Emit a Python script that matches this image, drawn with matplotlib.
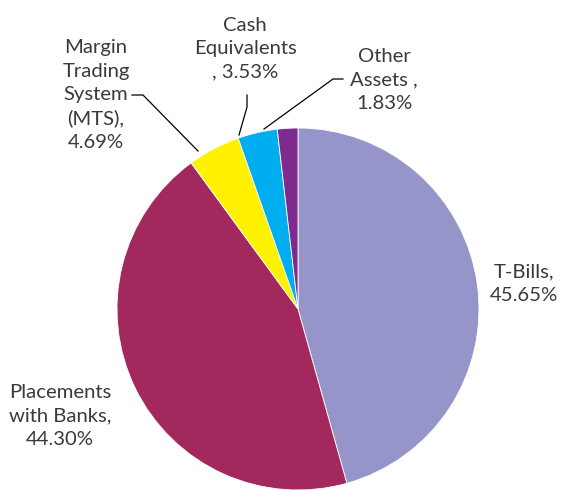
import matplotlib.pyplot as plt

labels = ["T-Bills,\n45.65%", "Placements\nwith Banks,\n44.30%", "Margin\nTrading\nSystem\n(MTS),\n4.69%",
          "Cash\nEquivalents\n, 3.53%", "Other\nAssets ,\n1.83%"]
values = [45.65, 44.30, 4.69, 3.53, 1.83]
colors = ["#9595C9", "#A3285E", "#FFF200", "#00AEEF", "#7E2B8F"]

W, H = 567, 490
fig = plt.figure(figsize=(W / 100, H / 100), dpi=100)
ax = fig.add_axes([0, 0, 1, 1])

ax.pie(values, colors=colors, startangle=90, counterclock=False,
       center=(298, H - 309), radius=181, frame=True,
       wedgeprops=dict(linewidth=0.6, edgecolor="white"))
ax.set_xlim(0, W)
ax.set_ylim(0, H)
ax.set_aspect("equal")
ax.axis("off")

txt = dict(fontsize=14.6, color="#3a3a3a", ha="center", va="center",
           family="Lato", linespacing=1.45)

# label positions in pixel coords (x, y from top)
pos = [(524, 284), (60, 416), (96, 95), (245, 49), (384, 80)]
for lab, (x, y) in zip(labels, pos):
    ax.text(x, H - y, lab, **txt)

# leader lines
leaders = [
    [(132, 95), (143, 95), (198, 151)],
    [(247, 95), (247, 107), (239, 135)],
    [(343, 79), (333, 79), (264, 129)],
]
for pts in leaders:
    xs = [p[0] for p in pts]
    ys = [H - p[1] for p in pts]
    ax.plot(xs, ys, color="black", linewidth=0.9)

fig.savefig("out.png", dpi=100)
